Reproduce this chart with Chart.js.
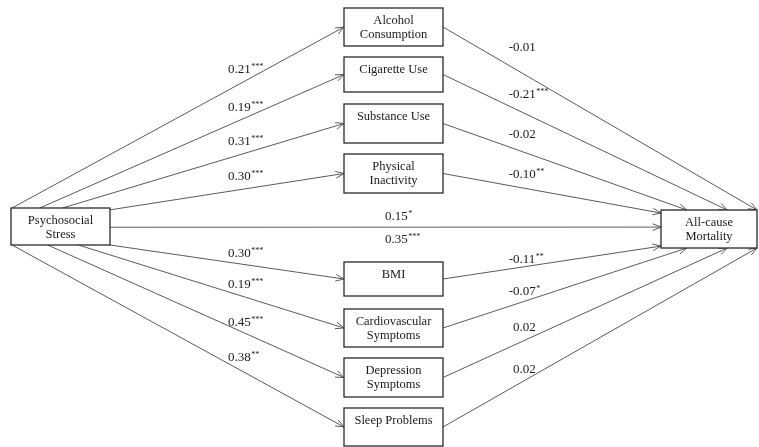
<!DOCTYPE html>
<html lang="en">
<head>
<meta charset="UTF-8">
<title>Psychosocial Stress, Health Behaviours and All-cause Mortality</title>
<style>
  body { margin: 0; background: #fff; }
  #wrap { width: 759px; height: 447px; }
</style>
</head>
<body>
<div id="wrap"><canvas id="pathChart" width="759" height="447"></canvas></div>
<script src="https://cdn.jsdelivr.net/npm/chart.js"></script>
<script>
// --- data ---
const exposureName = ['Psychosocial', 'Stress'];
const outcomeName = ['All-cause', 'Mortality'];
const mediators = [
  ['Alcohol', 'Consumption'], ['Cigarette Use'], ['Substance Use'], ['Physical', 'Inactivity'],
  ['BMI'], ['Cardiovascular', 'Symptoms'], ['Depression', 'Symptoms'], ['Sleep Problems']
];
// stress -> mediator
const pathA = [0.21, 0.19, 0.31, 0.30, 0.30, 0.19, 0.45, 0.38];
const pathAStars = ['***', '***', '***', '***', '***', '***', '***', '**'];
// mediator -> mortality
const pathB = [-0.01, -0.21, -0.02, -0.10, -0.11, -0.07, 0.02, 0.02];
const pathBStars = ['', '***', '', '**', '**', '*', '', ''];
// stress -> mortality
const directEffect = 0.15, directStars = '*';
const totalEffect = 0.35, totalStars = '***';

// --- layout (axis units, y grows downward) ---
const exposureBox = { x0: 11, x1: 110, y0: 208, y1: 245 };
const outcomeBox = { x0: 661, x1: 757, y0: 210, y1: 248 };
const mediatorX = [344, 443];
const mediatorTop = [8, 57, 104, 154, 262, 309, 358, 408];
const mediatorHeight = [38, 35, 39, 39, 34, 38, 39, 38];
// where each path leaves the exposure box and enters the outcome box
const exposurePorts = [['top', 0.01], ['top', 0.29], ['top', 0.52], ['right', 0.05],
                       ['right', 1], ['bottom', 0.68], ['bottom', 0.37], ['bottom', 0.01]];
const outcomePorts = [['top', 1], ['top', 0.69], ['top', 0.27], ['left', 0.08],
                      ['left', 0.95], ['bottom', 0.27], ['bottom', 0.69], ['bottom', 1]];
const labelAY = [70, 108, 142, 177, 254, 285, 323, 358];
const labelBY = [48, 95, 135, 175, 260, 292, 328, 370];
const labelAX = 228, labelBX = 513, labelDX = 385;

const mediatorBoxes = mediatorTop.map((t, i) => ({ x0: mediatorX[0], x1: mediatorX[1], y0: t, y1: t + mediatorHeight[i] }));

function port(box, side, t) {
  if (side === 'top') return { x: box.x0 + t * (box.x1 - box.x0), y: box.y0 };
  if (side === 'bottom') return { x: box.x0 + t * (box.x1 - box.x0), y: box.y1 };
  if (side === 'left') return { x: box.x0, y: box.y0 + t * (box.y1 - box.y0) };
  return { x: box.x1, y: box.y0 + t * (box.y1 - box.y0) };
}

const arrowStyle = { showLine: true, borderColor: '#5a5a5a', borderWidth: 1, pointRadius: 0, fill: false };
const datasets = [];
mediators.forEach((m, i) => {
  datasets.push({ ...arrowStyle, data: [port(exposureBox, ...exposurePorts[i]), port(mediatorBoxes[i], 'left', 0.5)] });
  datasets.push({ ...arrowStyle, data: [port(mediatorBoxes[i], 'right', 0.5), port(outcomeBox, ...outcomePorts[i])] });
});
datasets.push({ ...arrowStyle, data: [port(exposureBox, 'right', 0.52), port(outcomeBox, 'left', 0.45)] });

const serif = '"Liberation Serif", "Times New Roman", serif';

function drawHead(ctx, ax, ay, bx, by) {
  const ang = Math.atan2(by - ay, bx - ax), len = 9, spread = 0.38;
  ctx.beginPath();
  ctx.moveTo(bx - len * Math.cos(ang - spread), by - len * Math.sin(ang - spread));
  ctx.lineTo(bx, by);
  ctx.lineTo(bx - len * Math.cos(ang + spread), by - len * Math.sin(ang + spread));
  ctx.stroke();
}

function drawCoef(ctx, xPix, yPix, value, stars) {
  const txt = value.toFixed(2);
  ctx.font = '13px ' + serif;
  ctx.textAlign = 'left';
  ctx.textBaseline = 'middle';
  const shift = value < 0 ? ctx.measureText('-').width : 0;
  ctx.fillText(txt, xPix - shift, yPix);
  const w = ctx.measureText(txt).width;
  ctx.font = '8px ' + serif;
  ctx.fillText(stars, xPix - shift + w + 0.5, yPix - 3);
}

const diagramPlugin = {
  id: 'pathDiagram',
  afterDatasetsDraw(chart) {
    const { ctx, scales: { x, y } } = chart;
    const px = v => x.getPixelForValue(v), py = v => y.getPixelForValue(v);
    ctx.save();
    ctx.strokeStyle = '#5a5a5a';
    ctx.lineWidth = 1;
    chart.data.datasets.forEach((ds, i) => {
      const pts = chart.getDatasetMeta(i).data;
      drawHead(ctx, pts[0].x, pts[0].y, pts[1].x, pts[1].y);
    });

    const boxes = [[exposureBox, exposureName], [outcomeBox, outcomeName]]
      .concat(mediatorBoxes.map((b, i) => [b, mediators[i]]));
    boxes.forEach(([b, lines]) => {
      const l = px(b.x0), r = px(b.x1), t = py(b.y0), btm = py(b.y1);
      ctx.fillStyle = '#fff';
      ctx.fillRect(l, t, r - l, btm - t);
      ctx.strokeStyle = '#2a2a2a';
      ctx.lineWidth = 1.3;
      ctx.strokeRect(l, t, r - l, btm - t);
      ctx.fillStyle = '#1a1a1a';
      ctx.font = '12.5px ' + serif;
      ctx.textAlign = 'center';
      ctx.textBaseline = 'middle';
      lines.forEach((s, k) => ctx.fillText(s, (l + r) / 2, py(b.y0 + 13 + k * 14)));
    });

    ctx.fillStyle = '#1a1a1a';
    pathA.forEach((v, i) => drawCoef(ctx, px(labelAX), py(labelAY[i]), v, pathAStars[i]));
    pathB.forEach((v, i) => drawCoef(ctx, px(labelBX), py(labelBY[i]), v, pathBStars[i]));
    drawCoef(ctx, px(labelDX), py(217), directEffect, directStars);
    drawCoef(ctx, px(labelDX), py(240), totalEffect, totalStars);
    ctx.restore();
  }
};

new Chart(document.getElementById('pathChart'), {
  type: 'scatter',
  data: { datasets: datasets },
  options: {
    responsive: false,
    devicePixelRatio: 1,
    animation: false,
    layout: { padding: 0 },
    plugins: { legend: { display: false }, tooltip: { enabled: false } },
    scales: {
      x: { type: 'linear', min: 0, max: 759, display: false },
      y: { type: 'linear', min: 0, max: 447, reverse: true, display: false }
    }
  },
  plugins: [diagramPlugin]
});
</script>
</body>
</html>
